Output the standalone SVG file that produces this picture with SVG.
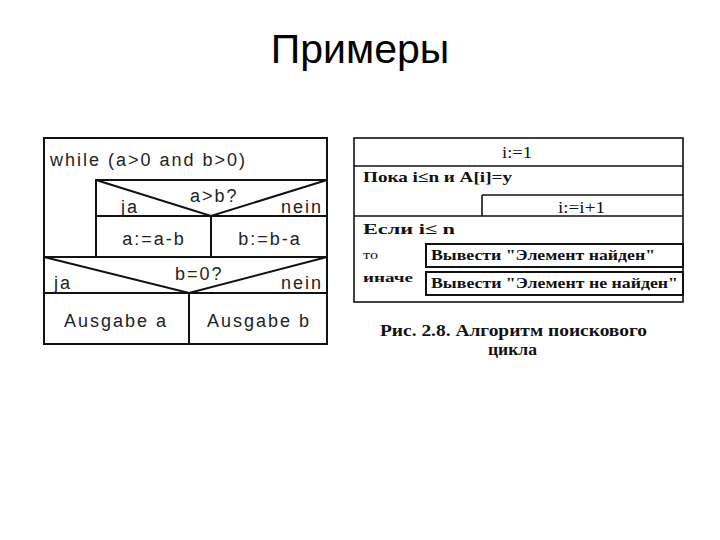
<svg xmlns="http://www.w3.org/2000/svg" width="720" height="540" viewBox="0 0 720 540">
<style>
.ln{stroke:#111;stroke-width:2;fill:none}
.rl{stroke:#111;stroke-width:1.6;fill:none}
.ns{font-family:"Liberation Sans",Arial,sans-serif;font-size:18px;letter-spacing:2px;fill:#222}
.sf{font-family:"Liberation Serif","Times New Roman",serif;font-weight:bold;fill:#111}
.sn{font-family:"Liberation Serif","Times New Roman",serif;font-weight:normal;fill:#111}
.title{font-family:"Liberation Sans",Arial,sans-serif;font-size:41px;fill:#000}
</style>
<rect width="720" height="540" fill="#fff"/>
<text class="title" x="360" y="63" text-anchor="middle">Примеры</text>

<g id="left-diagram">
  <g id="connectors">
    <rect class="ln" x="44" y="138" width="283" height="206"/>
    <polyline class="ln" points="96,257 96,180 327,180"/>
    <line class="ln" x1="96" y1="216" x2="327" y2="216"/>
    <line class="ln" x1="211" y1="216" x2="211" y2="257"/>
    <line class="ln" x1="44" y1="257" x2="327" y2="257"/>
    <polyline class="ln" points="96,180 211,216 327,180"/>
    <polyline class="ln" points="44,257 189,293 327,257"/>
    <line class="ln" x1="44" y1="293" x2="327" y2="293"/>
    <line class="ln" x1="189" y1="293" x2="189" y2="344"/>
  </g>
  <g id="while"><text class="ns" x="50" y="166">while (a&gt;0 and b&gt;0)</text></g>
  <g id="cond1">
    <text class="ns" x="190" y="202">a&gt;b?</text>
    <text class="ns" x="121" y="213">ja</text>
    <text class="ns" x="281" y="213">nein</text>
  </g>
  <g id="a-minus-b"><text class="ns" x="154" y="245" text-anchor="middle">a:=a-b</text></g>
  <g id="b-minus-a"><text class="ns" x="270" y="245" text-anchor="middle">b:=b-a</text></g>
  <g id="cond2">
    <text class="ns" x="175" y="280">b=0?</text>
    <text class="ns" x="54" y="289">ja</text>
    <text class="ns" x="281" y="289">nein</text>
  </g>
  <g id="out-a"><text class="ns" x="116" y="327" text-anchor="middle">Ausgabe a</text></g>
  <g id="out-b"><text class="ns" x="259" y="327" text-anchor="middle">Ausgabe b</text></g>
</g>

<g id="right-diagram">
  <g id="right-lines">
    <rect class="rl" x="354" y="138" width="329" height="164"/>
    <line class="rl" x1="354" y1="166" x2="683" y2="166"/>
    <line class="rl" x1="482" y1="195" x2="683" y2="195"/>
    <line class="rl" x1="482" y1="195" x2="482" y2="216"/>
    <line class="rl" x1="354" y1="216" x2="683" y2="216"/>
  </g>
  <g id="init"><text class="sn" x="502" y="158" font-size="16" textLength="30" lengthAdjust="spacingAndGlyphs">i:=1</text></g>
  <g id="loop"><text class="sf" x="363" y="182" font-size="15" textLength="149" lengthAdjust="spacingAndGlyphs">Пока i≤n и A[i]=y</text></g>
  <g id="inc"><text class="sn" x="558" y="213" font-size="16" textLength="47" lengthAdjust="spacingAndGlyphs">i:=i+1</text></g>
  <g id="if">
    <text class="sf" x="363" y="234" font-size="15" textLength="92" lengthAdjust="spacingAndGlyphs">Если   i≤ n</text>
    <text class="sn" x="363" y="259" font-size="12" textLength="15" lengthAdjust="spacingAndGlyphs">то</text>
    <text class="sf" x="363" y="282" font-size="12" textLength="50" lengthAdjust="spacingAndGlyphs">иначе</text>
  </g>
  <g id="found">
    <rect x="426" y="244" width="257" height="23" fill="#fff" stroke="#111" stroke-width="2"/>
    <text class="sf" x="431" y="260" font-size="14" textLength="224" lengthAdjust="spacingAndGlyphs">Вывести "Элемент найден"</text>
  </g>
  <g id="notfound">
    <rect x="426" y="272" width="257" height="23" fill="#fff" stroke="#111" stroke-width="2"/>
    <text class="sf" x="431" y="288" font-size="14" textLength="247" lengthAdjust="spacingAndGlyphs">Вывести "Элемент не найден"</text>
  </g>
  <g id="caption">
    <text class="sf" x="380" y="336" font-size="16" textLength="267" lengthAdjust="spacingAndGlyphs">Рис. 2.8. Алгоритм поискового</text>
    <text class="sf" x="488" y="355" font-size="16" textLength="49" lengthAdjust="spacingAndGlyphs">цикла</text>
  </g>
</g>
</svg>
